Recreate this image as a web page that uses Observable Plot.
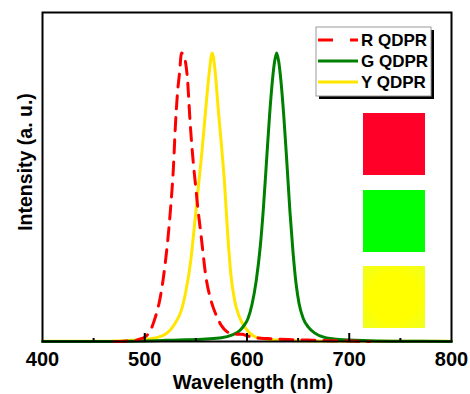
<!DOCTYPE html>
<html><head><meta charset="utf-8">
<script src="https://cdn.jsdelivr.net/npm/d3@7"></script>
<script src="https://cdn.jsdelivr.net/npm/@observablehq/plot@0.6"></script>
<style>
body{margin:0;background:#fff;}
#chart{position:relative;width:470px;height:394px;overflow:hidden;}
.swatch{position:absolute;}
</style></head><body><div id="chart"></div>
<script>
const seriesNames = ["R QDPR", "G QDPR", "Y QDPR"];
const seriesColors = ["#ff0000", "#008000", "#ffe600"];

const redWl = [470, 480, 490, 495, 500, 505, 510, 515, 520, 525, 528, 530, 532, 534, 536, 538, 540, 542, 544, 546, 548, 550, 552, 555, 560, 565, 570, 575, 580, 585, 590, 595, 600, 605, 610, 620, 640, 660, 680, 700, 720];
const redI  = [0, 0.001, 0.003, 0.008, 0.015, 0.035, 0.08, 0.15, 0.27, 0.45, 0.6, 0.75, 0.86, 0.93, 1.0, 0.99, 0.965, 0.9, 0.78, 0.68, 0.6, 0.53, 0.46, 0.37, 0.22, 0.14, 0.09, 0.055, 0.035, 0.027, 0.025, 0.025, 0.02, 0.015, 0.012, 0.01, 0.007, 0.005, 0.003, 0.002, 0];

const greenWl = [400, 450, 500, 520, 540, 560, 575, 585, 592, 597, 601, 605, 609, 613, 616, 619, 622, 625, 627, 629, 631, 633, 636, 639, 642, 645, 648, 651, 655, 660, 666, 675, 690, 720, 760, 800];
const greenI  = [0, 0, 0.002, 0.004, 0.006, 0.009, 0.013, 0.022, 0.035, 0.055, 0.08, 0.13, 0.21, 0.33, 0.46, 0.62, 0.78, 0.91, 0.97, 1.0, 0.97, 0.91, 0.78, 0.62, 0.45, 0.31, 0.2, 0.13, 0.08, 0.05, 0.03, 0.015, 0.007, 0.003, 0.001, 0];

const yellowWl = [400, 450, 480, 500, 510, 520, 525, 530, 535, 540, 545, 548, 552, 556, 560, 563, 566, 569, 572, 575, 578, 581, 584, 588, 592, 596, 600, 606, 615, 630, 660, 700, 800];
const yellowI  = [0.001, 0.001, 0.003, 0.007, 0.012, 0.025, 0.04, 0.065, 0.1, 0.17, 0.28, 0.38, 0.52, 0.66, 0.82, 0.93, 1.0, 0.93, 0.8, 0.68, 0.55, 0.38, 0.24, 0.14, 0.09, 0.06, 0.04, 0.02, 0.01, 0.005, 0.002, 0.001, 0.001];

const xTickLabels = [400, 500, 600, 700, 800];
const majorTicks = [500, 600, 700];
const minorTicks = [450, 550, 650, 750];
const swatchColors = ["#ff0028", "#00ff00", "#ffff00"];

const toRows = (name, wl, I) => wl.map((w, i) => ({series: name, wl: w, I: I[i]}));
const red = toRows(seriesNames[0], redWl, redI);
const green = toRows(seriesNames[1], greenWl, greenI);
const yellow = toRows(seriesNames[2], yellowWl, yellowI);

const font = "'Liberation Sans', Arial, sans-serif";

const svg = Plot.plot({
  width: 470,
  height: 394,
  marginLeft: 42,
  marginRight: 19,
  marginTop: 12,
  marginBottom: 53,
  style: {fontFamily: font, background: "#fff"},
  x: {domain: [400, 800], axis: null},
  y: {domain: [0, 1.14], axis: null},
  marks: [
    Plot.line(yellow, {x: "wl", y: "I", stroke: seriesColors[2], strokeWidth: 3, curve: "monotone-x"}),
    Plot.line(green, {x: "wl", y: "I", stroke: seriesColors[1], strokeWidth: 3, curve: "monotone-x"}),
    Plot.line(red, {x: "wl", y: "I", stroke: seriesColors[0], strokeWidth: 3, strokeDasharray: "13,9", curve: "monotone-x"}),
    Plot.tickX(majorTicks, {x: d => d, insetTop: 321, stroke: "black", strokeWidth: 2}),
    Plot.tickX(minorTicks, {x: d => d, insetTop: 326, stroke: "black", strokeWidth: 2}),
    Plot.frame({stroke: "black", strokeWidth: 2}),
    Plot.text(xTickLabels, {x: d => d, frameAnchor: "bottom", dy: 18, lineAnchor: "middle", textAnchor: "middle", text: d => String(d), fontSize: 20, fontWeight: "bold", fill: "black"}),
    Plot.text(["Wavelength (nm)"], {frameAnchor: "bottom", dy: 41, dx: 6, lineAnchor: "middle", textAnchor: "middle", fontSize: 20, fontWeight: "bold", fill: "black"}),
    Plot.text(["Intensity (a. u.)"], {frameAnchor: "left", rotate: -90, dx: -17, dy: -15, lineAnchor: "middle", textAnchor: "middle", fontSize: 19.5, fontWeight: "bold", fill: "black"})
  ]
});

const chart = document.getElementById("chart");
chart.appendChild(svg);

// Legend
const s = d3.select(svg);
const lg = s.append("g").attr("font-family", font).attr("text-anchor", "start");
lg.append("rect").attr("x", 319).attr("y", 30).attr("width", 115).attr("height", 69).attr("fill", "black");
lg.append("rect").attr("x", 316).attr("y", 27).attr("width", 115).attr("height", 69).attr("fill", "white").attr("stroke", "#999").attr("stroke-width", 1);
const rowY = [40, 61, 82];
seriesNames.forEach((name, i) => {
  const line = lg.append("line").attr("x1", 318).attr("x2", 358).attr("y1", rowY[i]).attr("y2", rowY[i])
    .attr("stroke", seriesColors[i]).attr("stroke-width", 3);
  if (i === 0) line.attr("stroke-dasharray", "15,17");
  lg.append("text").attr("x", 361).attr("y", rowY[i]).attr("dy", "0.36em").attr("text-anchor", "start")
    .attr("font-size", 17).attr("font-weight", "bold").attr("fill", "black").text(name);
});

// Colour swatches
const swTop = [113, 190, 266];
swatchColors.forEach((c, i) => {
  const d = document.createElement("div");
  d.className = "swatch";
  d.style.left = "363px";
  d.style.top = swTop[i] + "px";
  d.style.width = "62px";
  d.style.height = "62px";
  d.style.background = i === 2 ? "radial-gradient(circle, #ffff00 55%, #eeff20 100%)" : c;
  chart.appendChild(d);
});
</script></body></html>
